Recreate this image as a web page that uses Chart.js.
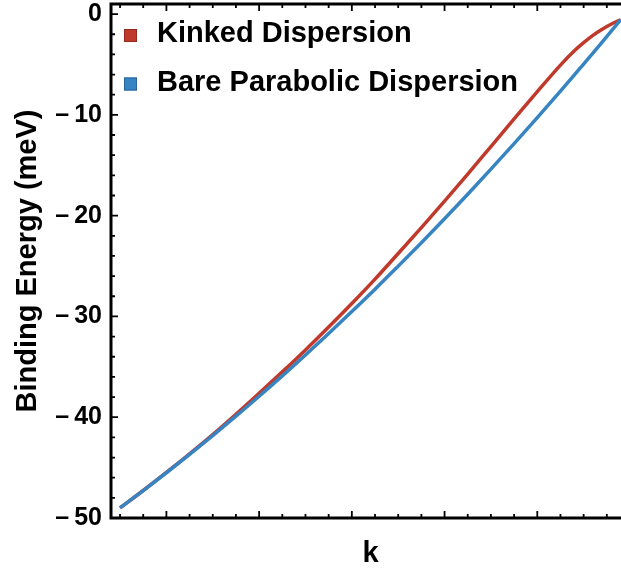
<!DOCTYPE html>
<html>
<head>
<meta charset="utf-8">
<script src="https://cdn.jsdelivr.net/npm/chart.js@4.4.1/dist/chart.umd.min.js"></script>
<style>
  html, body { margin: 0; padding: 0; background: #fff; overflow: hidden; }
  #wrap { width: 630px; height: 571px; }
</style>
</head>
<body>
<div id="wrap"><canvas id="dispersion-chart" width="630" height="571"></canvas></div>
<script>
// Momentum samples along the cut
const kValues = [0.10, 0.15, 0.20, 0.25, 0.30, 0.35, 0.40, 0.45, 0.50, 0.55,
                 0.60, 0.65, 0.70, 0.75, 0.80, 0.85, 0.90, 0.95, 1.00, 1.05,
                 1.08, 1.10, 1.12, 1.14, 1.16, 1.18];

// Binding energy (meV)
const kinkedEnergy = [-49.00, -47.27, -45.48, -43.63, -41.72, -39.70, -37.62, -35.50, -33.32, -31.05,
                      -28.72, -26.30, -23.76, -21.19, -18.56, -15.88, -13.14, -10.40, -7.70, -5.06,
                      -3.64, -2.83, -2.11, -1.50, -0.98, -0.56];
const bareEnergy = [-49.00, -47.28, -45.51, -43.69, -41.82, -39.90, -37.92, -35.90, -33.82, -31.70,
                    -29.52, -27.30, -25.01, -22.69, -20.31, -17.88, -15.39, -12.86, -10.28, -7.65,
                    -6.04, -4.96, -3.88, -2.78, -1.67, -0.56];

const seriesLabels = ['Kinked Dispersion', 'Bare Parabolic Dispersion'];
const seriesColors = ['#c0392b', '#3784c2'];
const seriesEdges = ['#93291f', '#27659a'];

// axis ranges and tick spacing
const kRange = [0.0805, 1.2];
const energyRange = [-50, 1];
const kMinorStep = 0.05;
const energyMinorStep = 2;
const energyTickLabels = [-50, -40, -30, -20, -10, 0];

const FONT = '"Liberation Sans", Arial, Helvetica, sans-serif';

function toPoints(ys) {
    return kValues.map((k, i) => ({ x: k, y: ys[i] }));
}

function energyLabel(v) {
    if (!energyTickLabels.includes(v)) return '';
    return v < 0 ? '\u2013\u2009' + Math.abs(v) : String(v);
}

// Mathematica-style frame with inward ticks on all four sides
const frameTicks = {
    id: 'frameTicks',
    afterDatasetsDraw(chart) {
        const { ctx, chartArea: a, scales: { x, y } } = chart;
        ctx.save();
        ctx.strokeStyle = '#000';
        ctx.lineCap = 'butt';

        ctx.lineWidth = 1.8;
        ctx.beginPath();
        for (let i = Math.ceil(kRange[0] / kMinorStep); i * kMinorStep <= kRange[1] + 1e-9; i++) {
            const px = x.getPixelForValue(i * kMinorStep);
            const len = i % 4 === 0 ? 7 : 4;
            ctx.moveTo(px, a.bottom); ctx.lineTo(px, a.bottom - len);
            ctx.moveTo(px, a.top); ctx.lineTo(px, a.top + len);
        }
        for (let i = energyRange[0] / energyMinorStep; i * energyMinorStep <= energyRange[1]; i++) {
            const py = y.getPixelForValue(i * energyMinorStep);
            const len = i % 5 === 0 ? 7 : 4;
            ctx.moveTo(a.left, py); ctx.lineTo(a.left + len, py);
            ctx.moveTo(a.right, py); ctx.lineTo(a.right - len, py);
        }
        ctx.stroke();

        ctx.lineWidth = 3;
        ctx.strokeRect(a.left, a.top, a.right - a.left, a.bottom - a.top);
        ctx.restore();
    }
};

// legend box in the upper left corner of the plot
const insetLegend = {
    id: 'insetLegend',
    afterDraw(chart) {
        const { ctx, chartArea: a } = chart;
        ctx.save();
        ctx.font = 'bold 29px ' + FONT;
        ctx.textBaseline = 'alphabetic';
        ctx.textAlign = 'left';
        chart.data.datasets.forEach((ds, i) => {
            const top = a.top + 25 + i * 48.5;
            ctx.fillStyle = ds.borderColor;
            ctx.fillRect(a.left + 13, top, 13, 13);
            ctx.strokeStyle = seriesEdges[i];
            ctx.lineWidth = 1;
            ctx.strokeRect(a.left + 13.5, top + 0.5, 12, 12);
            ctx.fillStyle = '#000';
            ctx.fillText(ds.label, a.left + 46, top + 13);
        });
        ctx.restore();
    }
};

const chartCtx = document.getElementById('dispersion-chart');
new Chart(chartCtx, {
    type: 'line',
    data: {
        datasets: [{
            label: seriesLabels[0],
            data: toPoints(kinkedEnergy),
            borderColor: seriesColors[0],
            borderWidth: 3.5,
            pointRadius: 0,
            cubicInterpolationMode: 'monotone',
            order: 2
        }, {
            label: seriesLabels[1],
            data: toPoints(bareEnergy),
            borderColor: seriesColors[1],
            borderWidth: 3.5,
            pointRadius: 0,
            cubicInterpolationMode: 'monotone',
            order: 1
        }]
    },
    options: {
        responsive: false,
        animation: false,
        layout: { padding: { top: 4, right: 0, left: 0, bottom: 0 } },
        scales: {
            x: {
                type: 'linear',
                min: kRange[0],
                max: kRange[1],
                afterFit: s => {
                    s.height = 53;
                    s.paddingLeft = 0;
                    s.paddingRight = 0;
                },
                grid: { display: false, drawTicks: false },
                border: { display: false },
                ticks: { display: false },
                title: {
                    display: true,
                    text: 'k',
                    color: '#000',
                    font: { family: FONT, size: 29, weight: 'bold', lineHeight: 1 },
                    padding: { top: 0, bottom: 2.5 }
                }
            },
            y: {
                type: 'linear',
                min: energyRange[0],
                max: energyRange[1],
                afterFit: s => {
                    s.width = 111;
                    s.paddingTop = 0;
                    s.paddingBottom = 0;
                },
                grid: { display: false, drawTicks: false },
                border: { display: false },
                ticks: {
                    stepSize: 10,
                    includeBounds: false,
                    padding: 9,
                    color: '#000',
                    font: { family: FONT, size: 25, weight: 'bold' },
                    callback: v => energyLabel(v)
                },
                title: {
                    display: true,
                    text: 'Binding Energy (meV)',
                    color: '#000',
                    font: { family: FONT, size: 29, weight: 'bold', lineHeight: 1 },
                    padding: { top: 13, bottom: 0 }
                }
            }
        },
        plugins: {
            legend: { display: false },
            tooltip: { enabled: false }
        }
    },
    plugins: [frameTicks, insetLegend]
});
</script>
</body>
</html>
